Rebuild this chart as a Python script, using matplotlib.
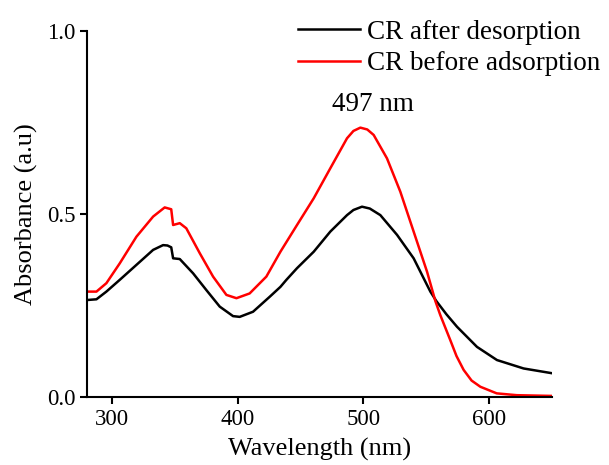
import matplotlib.pyplot as plt

plt.rcParams["font.family"] = ["Liberation Serif", "DejaVu Serif"]

# CR after desorption (black)
wl_after = [280, 287.5, 295.4, 306, 319.3, 332.6, 340.5, 344, 347, 348.5, 353.8, 364.4, 375,
            385.6, 396.2, 401.5, 412.1, 425.4, 433.9, 438.6, 447.1, 460.4, 473.6, 486.9,
            492, 498.8, 505, 513.4, 526.7, 539.9, 553.2, 558, 566, 574.4, 590.3, 606.2,
            627.4, 650]
abs_after = [0.265, 0.267, 0.288, 0.320, 0.361, 0.402, 0.415, 0.414, 0.409, 0.379, 0.377, 0.338,
             0.292, 0.247, 0.221, 0.219, 0.233, 0.274, 0.301, 0.320, 0.352, 0.397, 0.452, 0.497,
             0.511, 0.520, 0.515, 0.497, 0.443, 0.379, 0.288, 0.262, 0.226, 0.192, 0.137, 0.101,
             0.078, 0.065]

# CR before adsorption (red)
wl_before = [280, 287.5, 295.4, 306, 319.3, 332.6, 341.8, 347, 348.5, 353.8, 359, 369.7,
             380.3, 390.9, 398.9, 409.4, 422.7, 433.9, 447.1, 460.4, 473.6, 486.9, 492,
             497.5, 503, 508.1, 518.7, 529.3, 539.9, 550.6, 557.2, 561.1, 569, 574, 579.7,
             586, 593, 606, 622, 650]
abs_before = [0.288, 0.288, 0.311, 0.365, 0.438, 0.493, 0.518, 0.513, 0.470, 0.475, 0.461, 0.393,
              0.329, 0.279, 0.270, 0.283, 0.329, 0.397, 0.470, 0.543, 0.625, 0.707, 0.727,
              0.736, 0.731, 0.716, 0.652, 0.561, 0.452, 0.342, 0.262, 0.224, 0.156, 0.112, 0.074,
              0.045, 0.028, 0.010, 0.005, 0.003]

fig = plt.figure(figsize=(6.09, 4.65), dpi=100)
ax = fig.add_axes([0.1429, 0.1462, 0.7635, 0.7871])

ax.plot(wl_after, abs_after, color="black", lw=1.8, label="CR after desorption")
ax.plot(wl_before, abs_before, color="red", lw=1.8, label="CR before adsorption")

ax.set_xlim(280, 650)
ax.set_ylim(0, 1.0)
ax.set_xticks([300, 400, 500, 600])
ax.set_yticks([0.0, 0.5, 1.0])
ax.set_yticklabels(["0.0", "0.5", "1.0"])
ax.spines["top"].set_visible(False)
ax.spines["right"].set_visible(False)
for s in ["left", "bottom"]:
    ax.spines[s].set_linewidth(1.5)
ax.tick_params(direction="out", length=5, width=1.5, labelsize=16.5)

ax.set_xlabel("Wavelength (nm)", fontsize=19, labelpad=6)
ax.set_ylabel("Absorbance (a.u)", fontsize=19, labelpad=6)

ax.text(507.5, 0.80, "497 nm", fontsize=19.5, ha="center", va="center")

ax.legend(loc="upper left", bbox_to_anchor=(0.489, 0.958), bbox_transform=fig.transFigure,
          frameon=False, fontsize=19.5, borderpad=0, borderaxespad=0,
          handlelength=2.3, handletextpad=0.25, labelspacing=0.25)

fig.savefig("out.png", dpi=100)
